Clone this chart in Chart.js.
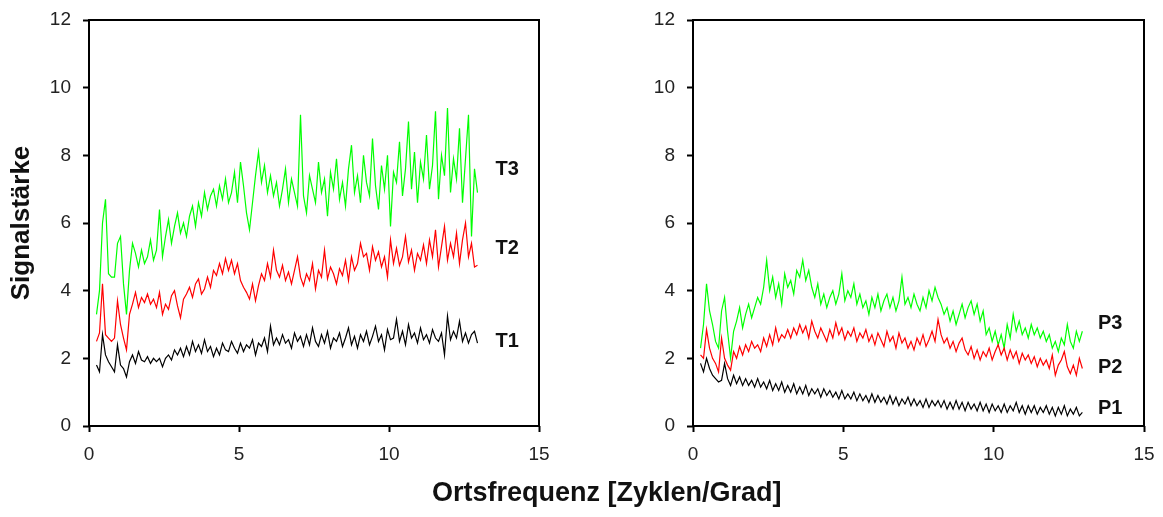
<!DOCTYPE html>
<html>
<head>
<meta charset="utf-8">
<script src="https://cdn.jsdelivr.net/npm/chart.js@4/dist/chart.umd.min.js"></script>
<style>
  html, body { margin: 0; padding: 0; background: #fff; }
  #wrap { position: relative; width: 1163px; height: 517px; overflow: hidden; }
  #left { position: absolute; left: 0; top: 0; }
  #right { position: absolute; left: 580px; top: 0; }
  #xtitle {
    position: absolute; left: 432px; top: 477px; line-height: 1.15;
    font: bold 27px "Liberation Sans", Arial, sans-serif; color: #111; white-space: nowrap;
  }
</style>
</head>
<body>
<div id="wrap">
  <canvas id="left" width="580" height="517"></canvas>
  <canvas id="right" width="583" height="517"></canvas>
  <div id="xtitle">Ortsfrequenz [Zyklen/Grad]</div>
</div>
<script>
// Ortsfrequenz (Zyklen/Grad), sampled every 0.1
var freq = [
  0.25, 0.35, 0.45, 0.55, 0.65, 0.75, 0.85, 0.95, 1.05, 1.15,
  1.25, 1.35, 1.45, 1.55, 1.65, 1.75, 1.85, 1.95, 2.05, 2.15,
  2.25, 2.35, 2.45, 2.55, 2.65, 2.75, 2.85, 2.95, 3.05, 3.15,
  3.25, 3.35, 3.45, 3.55, 3.65, 3.75, 3.85, 3.95, 4.05, 4.15,
  4.25, 4.35, 4.45, 4.55, 4.65, 4.75, 4.85, 4.95, 5.05, 5.15,
  5.25, 5.35, 5.45, 5.55, 5.65, 5.75, 5.85, 5.95, 6.05, 6.15,
  6.25, 6.35, 6.45, 6.55, 6.65, 6.75, 6.85, 6.95, 7.05, 7.15,
  7.25, 7.35, 7.45, 7.55, 7.65, 7.75, 7.85, 7.95, 8.05, 8.15,
  8.25, 8.35, 8.45, 8.55, 8.65, 8.75, 8.85, 8.95, 9.05, 9.15,
  9.25, 9.35, 9.45, 9.55, 9.65, 9.75, 9.85, 9.95, 10.05, 10.15,
  10.25, 10.35, 10.45, 10.55, 10.65, 10.75, 10.85, 10.95, 11.05, 11.15,
  11.25, 11.35, 11.45, 11.55, 11.65, 11.75, 11.85, 11.95, 12.05, 12.15,
  12.25, 12.35, 12.45, 12.55, 12.65, 12.75, 12.85, 12.95
];

var t1 = [
  1.8, 1.6, 2.7, 2.1, 1.9, 1.75, 1.6, 2.4, 1.8, 1.7,
  1.45, 1.9, 2.1, 1.85, 2.2, 1.95, 1.9, 2.05, 1.85, 2.0,
  1.9, 2.0, 1.75, 2.0, 2.1, 1.95, 2.25, 2.1, 2.3, 2.05,
  2.35, 2.1, 2.5, 2.2, 2.4, 2.15, 2.55, 2.2, 2.35, 2.05,
  2.3, 2.1, 2.45, 2.25, 2.2, 2.5, 2.3, 2.15, 2.45, 2.2,
  2.4, 2.3, 2.55, 2.1, 2.45, 2.35, 2.6, 2.2, 2.95, 2.4,
  2.6, 2.4, 2.7, 2.45, 2.55, 2.3, 2.75, 2.5, 2.65, 2.35,
  2.7, 2.4, 2.9, 2.5, 2.35, 2.7, 2.45, 2.8, 2.3, 2.6,
  2.5, 2.75, 2.35, 2.6, 2.9, 2.4, 2.65, 2.3, 2.7, 2.5,
  2.8, 2.4, 2.65, 2.95, 2.5, 2.7, 2.25, 2.85, 2.55, 2.6,
  3.15, 2.5, 2.8, 2.4, 3.0, 2.6, 2.75, 2.45, 2.9, 2.55,
  2.7, 2.45, 2.85, 2.6, 2.5, 2.75, 2.1, 3.25, 2.55, 2.8,
  2.6, 3.1, 2.5, 2.75, 2.45, 2.7, 2.8, 2.45
];
var t2 = [
  2.5, 2.75, 4.2, 2.7, 2.6, 2.5, 2.6, 3.7, 3.0, 2.6,
  2.25, 3.3, 3.6, 3.95, 3.5, 3.8, 3.65, 3.9, 3.6, 3.75,
  3.5, 3.95, 3.3, 3.6, 3.45, 3.85, 4.0, 3.55, 3.2, 3.75,
  3.9, 4.1, 3.8, 4.2, 4.35, 3.9, 4.05, 4.4, 4.1, 4.6,
  4.45, 4.8, 4.5, 4.95, 4.6, 4.9, 4.5, 4.8, 4.3, 4.1,
  3.95, 3.75, 4.2, 3.7, 4.15, 4.5, 4.3, 4.8, 4.4, 5.2,
  4.6, 4.4, 4.75, 4.3, 4.55, 4.2, 4.6, 5.0, 4.4, 4.15,
  4.5, 4.3, 4.8, 4.05, 4.6, 4.4, 5.2, 4.35, 4.7, 4.5,
  4.2, 4.65, 4.45, 4.9, 4.3, 5.0, 4.6, 4.8, 5.4, 5.0,
  5.1, 4.6, 5.3, 4.9, 5.15, 4.7, 5.0, 4.4, 5.5, 4.8,
  5.25, 4.75, 5.0, 5.6, 4.85, 5.2, 4.6, 5.1, 4.9, 5.35,
  4.8, 5.5, 5.0, 5.8, 4.7, 5.3, 5.9, 4.9, 5.4, 5.0,
  5.7, 4.8, 5.5, 6.0, 5.0, 5.4, 4.7, 4.75
];
var t3 = [
  3.3, 4.0, 6.0, 6.7, 4.5, 4.4, 4.4, 5.4, 5.6, 4.2,
  3.3, 4.6, 5.4, 5.1, 4.7, 5.2, 4.8, 5.0, 5.5, 4.9,
  5.2, 6.4, 5.0, 5.6, 6.1, 5.4, 5.9, 6.3, 5.7, 6.0,
  5.6, 6.2, 6.5, 5.9, 6.6, 6.2, 6.9, 6.4, 6.8, 7.0,
  6.5, 7.1, 6.7, 7.3, 6.6, 6.9, 7.5, 6.6, 7.8, 7.1,
  6.3, 5.8, 6.6, 7.4, 8.1, 7.2, 7.7, 6.9, 7.4, 6.8,
  7.2, 6.5, 7.0, 7.6, 6.6, 7.3, 6.9, 6.5, 9.2, 6.8,
  6.3, 7.4, 7.0, 6.6, 7.8, 6.9, 7.3, 6.2, 7.5, 7.0,
  7.9, 6.7, 7.2, 6.5, 7.6, 8.3, 6.9, 7.4, 6.6, 8.0,
  7.2, 6.8, 8.5, 7.1, 6.4, 7.7, 7.0, 8.0, 5.9, 7.5,
  7.2, 8.4, 6.8, 7.6, 9.0, 7.0, 8.1, 6.6, 7.8, 7.3,
  8.6, 7.0, 7.7, 9.3, 6.7, 8.0, 7.4, 9.4, 6.9, 7.9,
  7.3, 8.8, 6.6, 7.9, 9.2, 5.6, 7.6, 6.9
];

var p1 = [
  1.85, 1.6, 2.0, 1.7, 1.5, 1.4, 1.3, 1.35, 1.85, 1.4,
  1.2, 1.5, 1.25, 1.45, 1.2, 1.4, 1.2, 1.35, 1.15, 1.4,
  1.15, 1.3, 1.1, 1.35, 1.05, 1.25, 1.05, 1.3, 1.0, 1.2,
  1.0, 1.25, 0.95, 1.15, 0.95, 1.2, 0.9, 1.1, 0.95, 1.1,
  0.85, 1.1, 0.9, 1.05, 0.85, 1.0, 0.8, 1.05, 0.8, 0.95,
  0.8, 1.0, 0.75, 0.95, 0.75, 0.9, 0.7, 0.95, 0.7, 0.9,
  0.7, 0.85, 0.65, 0.9, 0.65, 0.85, 0.6, 0.8, 0.65, 0.85,
  0.6, 0.8, 0.6, 0.75, 0.55, 0.8, 0.55, 0.75, 0.6, 0.75,
  0.55, 0.75, 0.5, 0.7, 0.5, 0.75, 0.5, 0.7, 0.45, 0.7,
  0.5, 0.65, 0.45, 0.7, 0.45, 0.65, 0.4, 0.65, 0.45, 0.6,
  0.4, 0.65, 0.4, 0.6, 0.45, 0.7, 0.4, 0.6, 0.35, 0.6,
  0.4, 0.6, 0.35, 0.55, 0.4, 0.6, 0.35, 0.55, 0.3, 0.55,
  0.35, 0.6, 0.3, 0.5, 0.35, 0.55, 0.3, 0.4
];
var p2 = [
  2.1, 2.0, 2.85, 2.3, 2.0, 1.85, 1.6, 2.6, 2.0, 1.8,
  1.65, 2.2, 2.0, 2.35, 2.1, 2.4, 2.2, 2.5, 2.3, 2.4,
  2.2, 2.6, 2.35, 2.7, 2.4, 2.9, 2.5, 2.7, 2.6, 2.85,
  2.6, 2.9, 2.7, 3.0, 2.75, 2.95, 2.6, 3.1, 2.8, 2.6,
  2.9, 2.7, 2.5, 2.85, 2.6, 3.05, 2.7, 2.9, 2.55, 2.8,
  2.65, 2.9, 2.5, 2.75, 2.6, 2.85, 2.5, 2.7, 2.4, 2.75,
  2.55, 2.35, 2.8, 2.5, 2.65, 2.3, 2.75, 2.45, 2.6, 2.3,
  2.5, 2.25, 2.6, 2.4, 2.7, 2.35, 2.55, 2.8, 2.5, 3.15,
  2.7, 2.45, 2.6, 2.3, 2.5, 2.2, 2.45, 2.6, 2.25, 2.1,
  2.35, 2.0, 2.25, 1.95, 2.2, 2.05, 2.3, 1.95, 2.2, 2.4,
  2.1, 2.3, 1.95, 2.25, 2.0, 2.2, 1.85, 2.15, 1.95, 2.1,
  1.85, 2.05, 1.75, 2.0, 1.8, 1.95, 1.7, 2.1, 1.5, 1.8,
  1.95, 2.2, 1.75, 1.55, 1.8, 1.5, 2.0, 1.7
];
var p3 = [
  2.3, 3.0, 4.2, 3.4, 3.0, 2.5, 2.3, 3.4, 3.8, 2.8,
  2.0, 2.8, 3.1, 3.5, 2.9, 3.3, 3.6, 3.2, 3.5, 3.8,
  3.6, 4.1, 4.9, 4.0, 4.4, 3.8, 4.2, 3.6, 4.5, 4.1,
  4.3, 3.9, 4.6, 4.4, 4.9, 4.3, 4.6, 4.1, 3.8, 4.2,
  3.6, 3.9, 3.5, 3.8, 4.0, 3.6, 3.9, 4.5, 3.7, 4.0,
  3.8, 4.2, 3.6, 3.9, 3.5, 3.7, 3.3, 3.8, 3.5, 3.9,
  3.4, 3.7, 3.9, 3.5, 3.8, 3.4, 3.7, 4.4, 3.6, 3.8,
  3.5, 3.9, 3.6, 3.4, 3.8, 3.5, 4.0, 3.7, 4.1, 3.8,
  3.6, 3.3, 3.5, 3.1, 3.4, 3.0, 3.3, 3.6, 3.2, 3.5,
  3.7, 3.3, 3.6, 3.1, 3.4, 2.7, 2.9, 2.5, 2.8, 2.4,
  2.7, 2.3, 3.0, 2.6, 3.3, 2.8, 3.1, 2.7, 2.9, 2.6,
  3.0, 2.7, 2.9, 2.6, 2.8, 2.5, 2.7, 2.3, 2.5, 2.2,
  2.6, 2.4, 3.0, 2.5, 2.3, 2.8, 2.5, 2.8
];

var xTicks = [0, 5, 10, 15];
var yTicks = [0, 2, 4, 6, 8, 10, 12];

var FONT = '"Liberation Sans", Arial, sans-serif';

function pts(ys) {
  return ys.map(function (y, i) { return { x: freq[i], y: y }; });
}

function line(label, ys, color) {
  return {
    label: label,
    data: pts(ys),
    borderColor: color,
    borderWidth: 1.2,
    pointRadius: 0,
    tension: 0,
    fill: false
  };
}

// frame round the plot area + curve names at the right end
var frameAndNames = {
  id: 'frameAndNames',
  afterDraw: function (chart) {
    var ctx = chart.ctx, a = chart.chartArea;
    ctx.save();
    ctx.strokeStyle = '#000';
    ctx.lineWidth = 2;
    ctx.strokeRect(a.left, a.top, a.right - a.left, a.bottom - a.top);
    var names = chart.options.plugins.frameAndNames.names;
    ctx.font = 'bold 20px ' + FONT;
    ctx.fillStyle = '#111';
    ctx.textBaseline = 'middle';
    names.forEach(function (n) {
      ctx.fillText(n.text, chart.scales.x.getPixelForValue(n.x), chart.scales.y.getPixelForValue(n.y));
    });
    ctx.restore();
  }
};

function makeChart(id, datasets, yWidth, padRight, yTitle, names) {
  return new Chart(document.getElementById(id), {
    type: 'line',
    data: { datasets: datasets },
    options: {
      responsive: false,
      animation: false,
      layout: { padding: { top: 20, right: padRight, left: 0, bottom: 0 } },
      plugins: {
        legend: { display: false },
        tooltip: { enabled: false },
        frameAndNames: { names: names }
      },
      scales: {
        x: {
          type: 'linear',
          min: 0,
          max: 15,
          afterBuildTicks: function (s) { s.ticks = xTicks.map(function (v) { return { value: v }; }); },
          afterFit: function (s) { s.height = 91; s.paddingLeft = 0; s.paddingRight = 0; },
          border: { display: false },
          grid: { drawOnChartArea: false, tickLength: 6, tickColor: '#000', tickWidth: 2 },
          ticks: { color: '#222', font: { family: FONT, size: 19 }, padding: 11, maxRotation: 0 }
        },
        y: {
          min: 0,
          max: 12,
          afterBuildTicks: function (s) { s.ticks = yTicks.map(function (v) { return { value: v }; }); },
          afterFit: function (s) { s.width = yWidth; s.paddingTop = 0; s.paddingBottom = 0; },
          border: { display: false },
          grid: { drawOnChartArea: false, tickLength: 6, tickColor: '#000', tickWidth: 2 },
          ticks: { color: '#222', font: { family: FONT, size: 19 }, padding: 12 },
          title: {
            display: !!yTitle,
            text: yTitle || '',
            color: '#111',
            font: { family: FONT, size: 26, weight: 'bold' },
            padding: { top: 6, bottom: 8 }
          }
        }
      }
    },
    plugins: [frameAndNames]
  });
}

makeChart('left', [
  line('T1', t1, '#000000'),
  line('T2', t2, '#ff0000'),
  line('T3', t3, '#00ff00')
], 89, 41, 'Signalstärke', [
  { text: 'T3', x: 13.55, y: 7.57 },
  { text: 'T2', x: 13.55, y: 5.26 },
  { text: 'T1', x: 13.55, y: 2.51 }
]);

makeChart('right', [
  line('P1', p1, '#000000'),
  line('P2', p2, '#ff0000'),
  line('P3', p3, '#00ff00')
], 113, 19, null, [
  { text: 'P3', x: 13.47, y: 3.04 },
  { text: 'P2', x: 13.47, y: 1.74 },
  { text: 'P1', x: 13.47, y: 0.53 }
]);
</script>
</body>
</html>
